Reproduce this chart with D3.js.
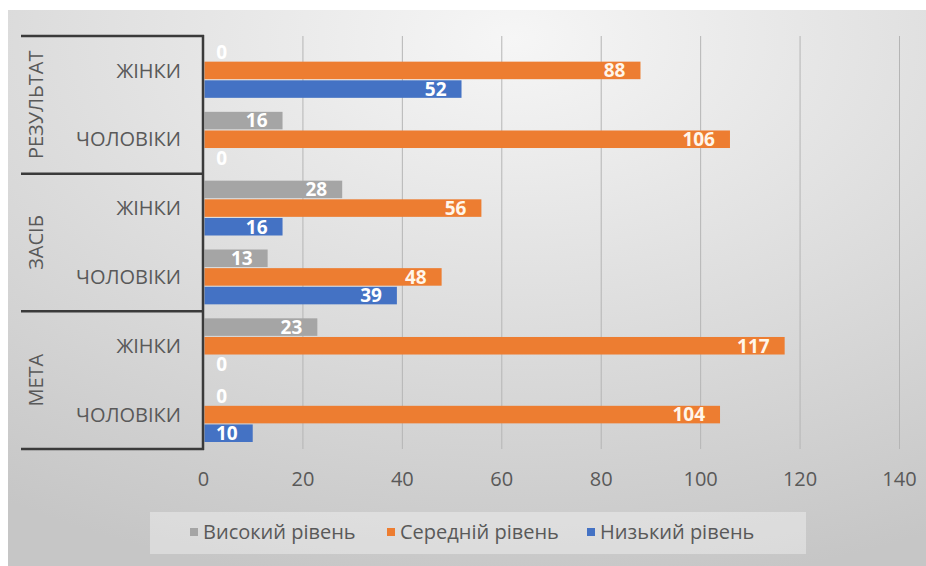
<!DOCTYPE html>
<html><head><meta charset="utf-8">
<script src="https://cdn.jsdelivr.net/npm/d3@7"></script>
<style>html,body{margin:0;padding:0;background:#fff;}svg{display:block;}</style>
</head><body>
<svg id="chart" width="926" height="566"></svg>
<script>
// ---- data ----
const groups = ["РЕЗУЛЬТАТ", "ЗАСІБ", "МЕТА"];
const subcats = ["ЖІНКИ", "ЧОЛОВІКИ"];
const seriesNames = ["Високий рівень", "Середній рівень", "Низький рівень"];
// rows top to bottom: РЕЗУЛЬТАТ-ЖІНКИ, РЕЗУЛЬТАТ-ЧОЛОВІКИ, ЗАСІБ-ЖІНКИ, ЗАСІБ-ЧОЛОВІКИ, МЕТА-ЖІНКИ, МЕТА-ЧОЛОВІКИ
const highLevel = [0, 16, 28, 13, 23, 0];
const midLevel = [88, 106, 56, 48, 117, 104];
const lowLevel = [52, 0, 16, 39, 0, 10];
const xTicks = [0, 20, 40, 60, 80, 100, 120, 140];
const colors = ["#a5a5a5", "#ed7d31", "#4472c4"];

const rows = [];
groups.forEach(g => subcats.forEach(s => rows.push({group: g, sub: s})));
const seriesData = [highLevel, midLevel, lowLevel];

const svg = d3.select("#chart");
const font = "'Open Sans', 'Noto Sans', sans-serif";

// background
const defs = svg.append("defs");
const rg = defs.append("radialGradient").attr("id", "bg")
  .attr("cx", "55%").attr("cy", "5%").attr("r", "100%");
rg.append("stop").attr("offset", "0%").attr("stop-color", "#f6f6f6");
rg.append("stop").attr("offset", "100%").attr("stop-color", "#c6c6c6");
svg.append("rect").attr("x", 8).attr("y", 10).attr("width", 918).attr("height", 556).attr("fill", "url(#bg)");

// scales
const x = d3.scaleLinear().domain([0, 140]).range([203, 899]);
const y0 = d3.scaleBand().domain(d3.range(rows.length)).range([36, 449]).padding(0);
const y1 = d3.scaleBand().domain(d3.range(3)).range([7, y0.bandwidth() - 7]).paddingInner(0.06);

// gridlines via axis
const gx = svg.append("g").attr("transform", "translate(0,449)")
  .call(d3.axisBottom(x).tickValues(xTicks).tickSize(-413).tickFormat(""));
gx.select(".domain").remove();
gx.selectAll(".tick line").attr("stroke", "#b5b5b5").attr("stroke-width", 1);

// tick labels
const lx = svg.append("g").attr("transform", "translate(0,449)")
  .call(d3.axisBottom(x).tickValues(xTicks).tickSize(0).tickPadding(23));
lx.select(".domain").remove();
lx.selectAll(".tick text").attr("font-family", font).attr("font-size", 20).attr("fill", "#595959");

// bars
const rowG = svg.append("g").selectAll("g").data(rows).join("g")
  .attr("transform", (d, i) => `translate(0,${y0(i)})`);

rowG.each(function(r, i) {
  const g = d3.select(this);
  seriesData.forEach((arr, s) => {
    const v = arr[i];
    g.append("rect")
      .attr("x", x(0) + 1.5)
      .attr("y", y1(s))
      .attr("width", Math.max(0, x(v) - x(0) - 1.5))
      .attr("height", y1.bandwidth())
      .attr("fill", colors[s]);
    const tx = Math.max(x(v) - 15, x(0) + 24);
    g.append("text")
      .attr("x", tx)
      .attr("y", y1(s) + y1.bandwidth() / 2)
      .attr("dy", "0.36em")
      .attr("text-anchor", "end")
      .attr("font-family", font)
      .attr("font-weight", "bold")
      .attr("font-size", 19)
      .attr("fill", s === 1 ? "#fff6ea" : "#ffffff")
      .text(v);
  });
});

// category axis: sub labels
svg.append("g").selectAll("text").data(rows).join("text")
  .attr("x", 181)
  .attr("y", (d, i) => y0(i) + y0.bandwidth() / 2)
  .attr("dy", "0.36em")
  .attr("text-anchor", "end")
  .attr("font-family", font).attr("font-size", 20).attr("fill", "#595959")
  .text(d => d.sub);

// group labels (rotated)
groups.forEach((g, gi) => {
  const cy = y0(gi * 2) + y0.bandwidth();
  svg.append("text")
    .attr("transform", `translate(36,${cy}) rotate(-90)`)
    .attr("text-anchor", "middle")
    .attr("dy", "0.36em")
    .attr("font-family", font).attr("font-size", 20).attr("fill", "#595959")
    .text(g);
});

// separators
const sepYs = [0, 2, 4, 6].map(k => k < 6 ? y0(k) : y0(5) + y0.bandwidth());
svg.append("g").selectAll("line").data(sepYs).join("line")
  .attr("x1", 21).attr("x2", 204).attr("y1", d => d).attr("y2", d => d)
  .attr("stroke", "#3a3a3a").attr("stroke-width", 2.5);
svg.append("line").attr("x1", 203).attr("x2", 203).attr("y1", 35).attr("y2", 450)
  .attr("stroke", "#3a3a3a").attr("stroke-width", 2.5);

// legend
svg.append("rect").attr("x", 150).attr("y", 512).attr("width", 656).attr("height", 42)
  .attr("fill", "#ffffff").attr("fill-opacity", 0.35);
const legendX = [190, 387, 587];
seriesNames.forEach((n, i) => {
  svg.append("rect").attr("x", legendX[i]).attr("y", 528).attr("width", 8).attr("height", 8).attr("fill", colors[i]);
  svg.append("text").attr("x", legendX[i] + 13).attr("y", 532).attr("dy", "0.36em")
    .attr("font-family", font).attr("font-size", 20).attr("fill", "#595959").text(n);
});
</script>
</body></html>
